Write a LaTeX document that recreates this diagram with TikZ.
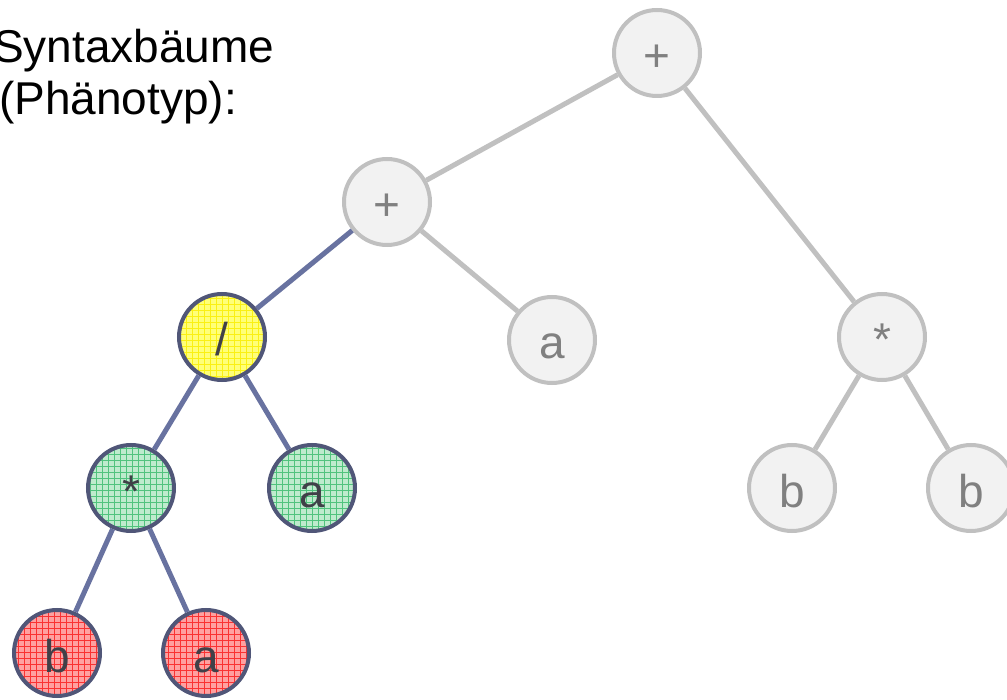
\documentclass[tikz,border=0pt]{standalone}
\usepackage{fontspec}
\setmainfont{Liberation Sans}
\usetikzlibrary{patterns.meta}
\definecolor{grayfill}{RGB}{242,242,242}
\definecolor{grayline}{RGB}{192,192,192}
\definecolor{graytext}{RGB}{128,128,128}
\definecolor{blueedge}{RGB}{104,114,160}
\definecolor{darkborder}{RGB}{80,86,120}
\definecolor{darktext}{RGB}{64,64,72}
\definecolor{yelbase}{RGB}{255,255,120}
\definecolor{yelgrid}{RGB}{250,240,20}
\definecolor{grnbase}{RGB}{190,235,205}
\definecolor{grngrid}{RGB}{80,195,125}
\definecolor{redbase}{RGB}{255,160,160}
\definecolor{redgrid}{RGB}{250,50,50}
\tikzdeclarepattern{
  name=biggrid,
  type=uncolored,
  bounding box={(-0.5pt,-0.5pt) and (6.5pt,6.5pt)},
  tile size={(6pt,6pt)},
  code={
    \draw[line width=0.9pt] (0,0) -- (6pt,0);
    \draw[line width=0.9pt] (0,0) -- (0,6pt);
  }
}
\tikzset{
  tnode/.style={circle, inner sep=0pt, minimum size=86pt, line width=4pt,
    font=\fontsize{46}{52}\selectfont, text height=40pt, text depth=2pt},
  graynode/.style={tnode, draw=grayline, fill=grayfill, text=graytext},
  colnode/.style={tnode, draw=darkborder, text=darktext,
    preaction={fill=#1base}, preaction={pattern=biggrid, pattern color=#1grid}},
  grayedge/.style={draw=grayline, line width=5pt},
  blueedgestyle/.style={draw=blueedge, line width=5pt},
  titletext/.style={anchor=base west, inner sep=0pt, font=\fontsize{46}{52}\selectfont}
}
\begin{document}
\begin{tikzpicture}[x=1pt,y=-1pt]
\useasboundingbox (0,0) rectangle (1007,700);
\node[titletext] (t1) at (-7,63) {Syntaxbäume};
\node[titletext] (t2) at (-1,115) {(Phänotyp):};
\node[graynode] (p1) at (657,53) {+};
\node[graynode] (p2) at (387,202) {+};
\node[colnode=yel] (div) at (222,337) {/};
\node[graynode] (am) at (552,340) {a};
\node[graynode] (mr) at (882,337) {*};
\node[colnode=grn] (mg) at (131,488) {*};
\node[colnode=grn] (ag) at (312,488) {a};
\node[graynode] (b1) at (792,488) {b};
\node[graynode] (b2) at (971,488) {b};
\node[colnode=red] (br) at (57,653) {b};
\node[colnode=red] (ar) at (206,653) {a};
\draw[grayedge] (p1) -- (p2);
\draw[grayedge] (p1) -- (mr);
\draw[grayedge] (p2) -- (am);
\draw[grayedge] (mr) -- (b1);
\draw[grayedge] (mr) -- (b2);
\draw[blueedgestyle] (p2) -- (div);
\draw[blueedgestyle] (div) -- (mg);
\draw[blueedgestyle] (div) -- (ag);
\draw[blueedgestyle] (mg) -- (br);
\draw[blueedgestyle] (mg) -- (ar);
\end{tikzpicture}
\end{document}
